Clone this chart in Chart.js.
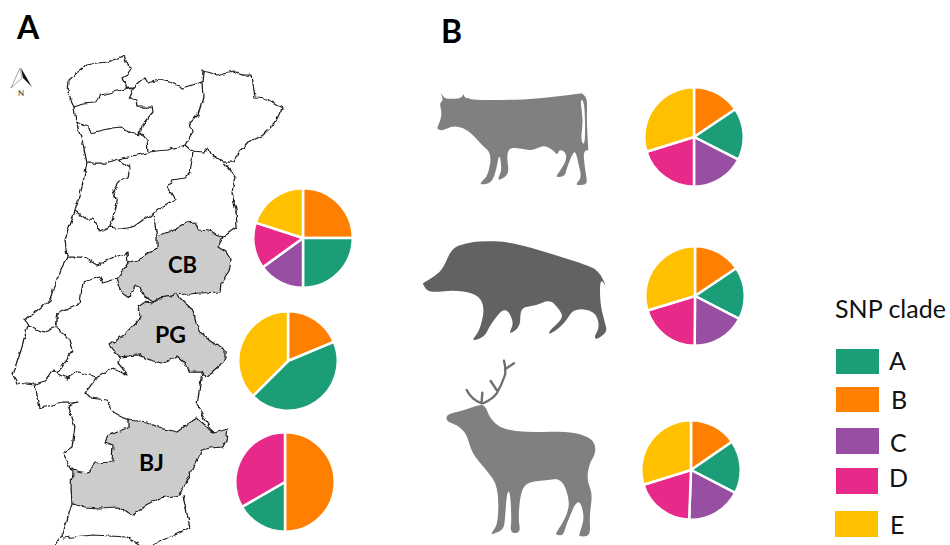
<!DOCTYPE html>
<html>
<head>
<meta charset="utf-8">
<script src="https://cdn.jsdelivr.net/npm/chart.js@4"></script>
<style>
  html, body { margin: 0; padding: 0; background: #fff; }
  #page { position: relative; width: 950px; height: 545px; overflow: hidden; font-family: Lato, sans-serif; }
  #page svg { position: absolute; left: 0; top: 0; }
  #page canvas { position: absolute; }
  .swatch { position: absolute; }
</style>
</head>
<body>
<div id="page">
<svg width="950" height="545" viewBox="0 0 950 545">
  <defs>
    <!-- gives the hand traced borders their wiggle -->
    <filter id="rough" filterUnits="userSpaceOnUse" x="0" y="0" width="950" height="545" color-interpolation-filters="sRGB">
      <feTurbulence type="fractalNoise" baseFrequency="0.14" numOctaves="2" seed="4" result="n"/>
      <feDisplacementMap in="SourceGraphic" in2="n" scale="5" xChannelSelector="R" yChannelSelector="G"/>
      <feGaussianBlur stdDeviation="0.35"/>
    </filter>
    <filter id="soft" filterUnits="userSpaceOnUse" x="0" y="0" width="950" height="545">
      <feGaussianBlur stdDeviation="0.5"/>
    </filter>
  </defs>
  <g filter="url(#rough)" fill="none" stroke="#1c1c1c" stroke-width="1.25" stroke-linejoin="round">
    <path fill="#cdcccd" d="M157,237 L163,234 L180,227 L186,223 L195,222 L198,230 L210,231 L216,235 L223,237 L218,247 L226,252 L231,260 L229,271 L221,283 L220,292 L200,293 L177,295 L160,298 L153,302 L143,295 L140,287 L135,285 L130,297 L120,290 L116,279 L128,263 L142,258 L157,248 Z"/>
    <path fill="#cdcccd" d="M177,295 L185,303 L193,310 L196,322 L200,333 L212,342 L225,350 L225,358 L222,363 L212,372 L205,377 L202,372 L190,372 L184,362 L177,356 L170,360 L160,363 L150,360 L138,355 L120,357 L115,352 L110,345 L125,334 L140,318 L138,307 L145,302 L153,303 L160,298 Z"/>
    <path fill="#cdcccd" d="M128,420 L147,422 L160,428 L177,432 L188,424 L197,418 L205,425 L213,433 L228,429 L226,440 L223,447 L210,448 L202,450 L196,462 L190,473 L180,495 L160,498 L147,505 L133,515 L117,507 L100,508 L85,507 L72,504 L71,488 L72,470 L88,473 L95,463 L112,462 L113,445 L105,442 L108,436 L115,433 L128,428 Z"/>
    <path d="M74,107 L68,92 L69,80 L78,72 L87,65 L97,63 L108,62 L117,59 L123,56 L125,62 L132,67 L127,75 L122,78 L126,87 L134,87 L117,91 L100,95 L95,103 L83,104 Z"/>
    <path d="M74,107 L76,122 L88,127 L90,133 L103,130 L112,128 L122,127 L130,133 L140,135 L142,125 L153,112 L152,107 L138,107 L137,100 L129,98 L134,87"/>
    <path d="M134,87 L145,78 L148,83 L160,80 L173,83 L183,88 L202,82 L203,97 L198,115 L190,123 L192,133 L185,145 L167,150 L148,152 L147,140 L140,132"/>
    <path d="M202,82 L203,71 L217,75 L233,71 L243,75 L252,75 L255,98 L267,99 L282,108 L275,123 L263,135 L248,142 L238,153 L233,162 L223,162 L210,154 L208,148 L203,153 L193,152 L185,145"/>
    <path d="M76,122 L82,140 L87,163 L100,163 L107,163 L118,159 L147,153"/>
    <path d="M87,163 L82,187 L75,211 L85,218 L93,218 L100,232 L110,227 L112,220 L117,203 L113,190 L118,182 L128,178 L130,167 L118,159"/>
    <path d="M193,152 L190,173 L185,178 L172,180 L168,188 L175,200 L153,213 L133,227 L120,229 L110,227"/>
    <path d="M223,162 L235,177 L232,193 L236,210 L237,227 L223,237"/>
    <path d="M153,213 L157,237"/>
    <path d="M75,211 L65,240 L67,257 L83,257 L97,265 L115,257 L127,253 L128,263"/>
    <path d="M67,257 L60,270 L50,300 L25,320 L28,325 L43,332 L55,327 L57,313 L80,303 L83,282 L100,277 L103,283 L116,279"/>
    <path d="M57,313 L57,327 L70,340 L73,350 L57,373 L67,378 L78,372 L97,377 L113,368 L128,375 L118,363 L120,357"/>
    <path d="M28,325 L22,347 L13,375 L17,383 L35,385 L45,382 L53,370 L57,373"/>
    <path d="M35,385 L40,408 L62,403 L77,403 L68,407 L75,427 L72,447 L63,453 L72,470"/>
    <path d="M97,377 L85,393 L90,398 L107,400 L115,413 L128,420"/>
    <path d="M202,372 L197,405 L213,433"/>
    <path d="M72,504 L63,533 L55,545 M63,538 L93,535 L127,537 L140,545 M153,545 L190,528 L183,495"/>
  </g>
  <!-- north arrow -->
  <path d="M20,68 L11,88 L22,78 Z" fill="#fff" stroke="#8a8a8a" stroke-width="0.8"/>
  <path d="M21,68 L32,87 L23,78 Z" fill="#111"/>
  <text x="21" y="96" font-size="8" fill="#444" text-anchor="middle">N</text>
  <!-- animals, filled in by the script below -->
  <g filter="url(#soft)">
    <g id="animals" transform="translate(410,70) scale(0.3333)"></g>
    <g id="deer" transform="translate(430,350) scale(0.3333)"></g>
  </g>
  <g font-weight="700" fill="#000">
    <text x="17" y="39" font-size="32">A</text>
    <text x="441" y="43" font-size="32">B</text>
    <text x="168" y="273" font-size="22">CB</text>
    <text x="155" y="343" font-size="23">PG</text>
    <text x="139" y="471" font-size="23">BJ</text>
  </g>
  <g id="legendText" font-size="25" fill="#111">
    <text x="835" y="318">SNP clade</text>
  </g>
</svg>
</div>
<script>
// SNP clade proportions (%), clockwise from 12 o'clock
const clades = ["B", "A", "C", "D", "E"];
const cladeColors = ["#FF7F00", "#1B9E77", "#984EA3", "#E7298A", "#FFC000"];

const valuesCB = [25, 25, 15, 15, 20];
const valuesPG = [18.75, 43.75, 0, 0, 37.5];
const valuesBJ = [50, 16.67, 0, 33.33, 0];
const valuesCattle = [15.6, 16.9, 17.5, 20.2, 29.8];
const valuesBoar = [15.6, 17, 17.5, 20.2, 29.7];
const valuesDeer = [15.4, 17.2, 18, 19.6, 29.8];

const legendNames = ["A", "B", "C", "D", "E"];

// centre x, centre y of each pie on the page
const pies = [
  { values: valuesCB, x: 303, y: 238 },
  { values: valuesPG, x: 287.5, y: 360.5 },
  { values: valuesBJ, x: 285, y: 482 },
  { values: valuesCattle, x: 694, y: 137 },
  { values: valuesBoar, x: 695, y: 296 },
  { values: valuesDeer, x: 690.5, y: 470 }
];
const pieBox = 102;

const page = document.getElementById("page");

pies.forEach(function (p) {
  const c = document.createElement("canvas");
  c.width = pieBox;
  c.height = pieBox;
  c.style.left = (p.x - pieBox / 2) + "px";
  c.style.top = (p.y - pieBox / 2) + "px";
  page.appendChild(c);
  new Chart(c, {
    type: "pie",
    data: {
      labels: clades,
      datasets: [{
        data: p.values,
        backgroundColor: cladeColors,
        borderColor: "#fff",
        borderWidth: 2.5
      }]
    },
    options: {
      responsive: false,
      animation: false,
      layout: { padding: 0 },
      plugins: { legend: { display: false }, tooltip: { enabled: false } }
    }
  });
});

// legend boxes sit unevenly in the original
const legendBoxes = [
  { x: 836, y: 349, w: 43, h: 25, tx: 889, ty: 370 },
  { x: 836, y: 387, w: 43, h: 25, tx: 891, ty: 409 },
  { x: 836, y: 428, w: 43, h: 26, tx: 890, ty: 452 },
  { x: 836, y: 468, w: 42, h: 26, tx: 889, ty: 487 },
  { x: 835, y: 511, w: 43, h: 26, tx: 890, ty: 534 }
];
const svgNS = "http://www.w3.org/2000/svg";
const legendText = document.getElementById("legendText");
legendNames.forEach(function (name, i) {
  const b = legendBoxes[i];
  const d = document.createElement("div");
  d.className = "swatch";
  d.style.cssText = "left:" + b.x + "px;top:" + b.y + "px;width:" + b.w + "px;height:" + b.h + "px;background:" + cladeColors[clades.indexOf(name)];
  page.appendChild(d);
  const t = document.createElementNS(svgNS, "text");
  t.setAttribute("x", b.tx);
  t.setAttribute("y", b.ty);
  t.textContent = name;
  legendText.appendChild(t);
});

// silhouettes: outline points, repeated points keep a corner sharp
const cowOutline = "92,68 92,68 100,80 108,86 125,86 145,86 155,82 160,72 160,72 165,84 175,84 190,90 300,90 400,85 515,70 515,70 528,80 532,100 530,150 535,240 535,240 520,245 524,290 532,335 525,345 500,345 500,340 515,322 505,280 498,248 490,245 470,295 465,318 440,322 440,316 462,285 470,262 465,245 448,238 442,256 430,240 400,225 370,242 335,236 298,232 290,260 298,312 268,332 264,324 276,300 268,246 258,305 243,340 212,344 212,338 235,315 245,250 215,225 190,195 160,172 125,168 100,182 82,178 82,172 97,135 88,98 100,92";
const cowTail = "510,88 522,92 526,160 524,228 512,210 520,150";
const boarOutline = "38,640 38,640 75,618 100,595 125,535 165,520 210,513 300,515 420,550 545,590 565,605 578,625 587,647 587,647 570,625 570,700 585,760 592,785 560,810 552,800 570,770 555,722 490,715 465,760 420,794 415,785 460,745 450,720 420,688 375,708 330,712 332,770 300,792 300,785 312,755 285,708 240,765 225,800 190,812 190,805 210,780 225,710 200,670 130,660 75,667 50,662";
const deerOutline = "48,200 60,190 100,182 145,165 165,165 180,205 215,238 300,248 420,243 480,262 497,285 495,315 478,340 470,390 488,430 478,500 482,558 448,560 448,552 465,500 445,440 410,520 400,557 378,555 378,548 410,500 420,450 395,385 350,390 285,398 270,440 265,510 272,548 240,550 245,510 240,420 230,430 225,510 220,540 185,554 185,548 205,520 205,410 170,360 125,310 110,250 80,225 52,215";

function smoothPath(points) {
  const pts = points.split(" ").map(function (s) { return s.split(",").map(Number); });
  const mid = function (a, b) { return ((a[0] + b[0]) / 2) + "," + ((a[1] + b[1]) / 2); };
  let d = "M" + mid(pts[pts.length - 1], pts[0]);
  pts.forEach(function (p, i) {
    d += " Q" + p[0] + "," + p[1] + " " + mid(p, pts[(i + 1) % pts.length]);
  });
  return d + " Z";
}
function addShape(parentId, points, fill) {
  const el = document.createElementNS(svgNS, "path");
  el.setAttribute("d", smoothPath(points));
  el.setAttribute("fill", fill);
  document.getElementById(parentId).appendChild(el);
}
addShape("animals", cowOutline, "#808080");
addShape("animals", cowTail, "#fff");
addShape("animals", boarOutline, "#626262");
addShape("deer", deerOutline, "#808080");
const antlers = document.createElementNS(svgNS, "path");
antlers.setAttribute("d", "M160,160 Q190,145 200,130 Q215,105 225,75 Q228,55 222,32 M225,58 L252,40 M200,120 L182,93 M155,160 Q125,150 110,120 M155,155 L157,128");
antlers.setAttribute("fill", "none");
antlers.setAttribute("stroke", "#6e6e6e");
antlers.setAttribute("stroke-width", "7");
antlers.setAttribute("stroke-linecap", "round");
document.getElementById("deer").appendChild(antlers);
</script>
</body>
</html>
